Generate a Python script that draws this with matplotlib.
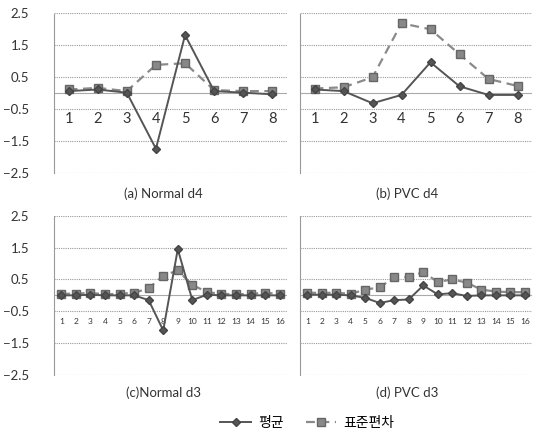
import matplotlib
matplotlib.use("Agg")
import matplotlib.pyplot as plt
import numpy as np

plt.rcParams['font.family'] = ['Lato', 'Noto Sans CJK KR', 'DejaVu Sans']

cats8 = [str(i) for i in range(1, 9)]
cats16 = [str(i) for i in range(1, 17)]

mean_a = [0.05, 0.1, 0.0, -1.75, 1.8, 0.05, 0.0, -0.05]
std_a = [0.1, 0.15, 0.05, 0.87, 0.92, 0.08, 0.05, 0.05]

mean_b = [0.1, 0.05, -0.33, -0.07, 0.95, 0.2, -0.07, -0.07]
std_b = [0.13, 0.17, 0.48, 2.17, 1.98, 1.2, 0.43, 0.21]

mean_c = [0.0, 0.0, 0.02, 0.0, 0.0, 0.0, -0.15, -1.1, 1.45, -0.15, 0.02, 0.0, 0.0, 0.0, 0.0, 0.0]
std_c = [0.05, 0.05, 0.08, 0.03, 0.05, 0.08, 0.22, 0.62, 0.78, 0.33, 0.1, 0.05, 0.03, 0.05, 0.08, 0.05]

mean_d = [0.02, 0.02, 0.02, 0.0, -0.08, -0.24, -0.15, -0.13, 0.31, 0.03, 0.07, -0.02, 0.0, 0.0, 0.0, 0.0]
std_d = [0.08, 0.08, 0.08, 0.05, 0.18, 0.25, 0.57, 0.57, 0.73, 0.42, 0.5, 0.4, 0.18, 0.12, 0.1, 0.1]

titles = ['(a) Normal d4', '(b) PVC d4', '(c)Normal d3', '(d) PVC d3']
legend_labels = ['평균', '표준편차']
yticks = [2.5, 1.5, 0.5, -0.5, -1.5, -2.5]

fig = plt.figure(figsize=(5.39, 4.38), dpi=100)
W, H = 539, 438
def rect(x0, y0, x1, y1):
    return [x0 / W, 1 - y1 / H, (x1 - x0) / W, (y1 - y0) / H]

axes = [
    fig.add_axes(rect(54, 12.7, 287, 172.7)),
    fig.add_axes(rect(300, 12.7, 532, 172.7)),
    fig.add_axes(rect(54, 215.7, 287, 375)),
    fig.add_axes(rect(300, 215.7, 532, 375)),
]
data = [(cats8, mean_a, std_a), (cats8, mean_b, std_b), (cats16, mean_c, std_c), (cats16, mean_d, std_d)]

mean_color = '#555555'
std_color = '#8a8a8a'

for i, (ax, (cats, m, s)) in enumerate(zip(axes, data)):
    n = len(cats)
    x = np.arange(n)
    small = n > 8
    ms = 5 if not small else 4.5
    ax.plot(x, s, color=std_color, lw=1.6, ls=(0, (4, 2.5)), marker='s', ms=ms + 1,
            mfc='#888888', mec='#666666', zorder=3, label=legend_labels[1])
    ax.plot(x, m, color=mean_color, lw=1.4, marker='D', ms=ms - 0.5 if not small else 4,
            mfc='#555555', mec='#444444', zorder=4, label=legend_labels[0])
    ax.set_xlim(-0.5, n - 0.5)
    ax.set_ylim(-2.5, 2.5)
    ax.set_yticks(yticks)
    ax.yaxis.grid(True, color='#999999', lw=0.8, ls=(0, (1, 1)))
    ax.set_axisbelow(True)
    for sp in ['top', 'right', 'bottom']:
        ax.spines[sp].set_visible(False)
    ax.spines['left'].set_color('#999999')
    ax.spines['left'].set_linestyle((0, (1, 1)))
    ax.spines['left'].set_linewidth(0.8)
    ax.axhline(0, color='#aaaaaa', lw=0.8, zorder=1)
    ax.set_xticks([])
    for xi, c in zip(x, cats):
        ax.text(xi, -0.81, c, ha='center', va='center', fontsize=6 if small else 10.5,
                color='#333333')
    ax.tick_params(axis='y', length=0, labelsize=9.5, labelcolor='#333333', pad=18)
    if i % 2 == 1:
        ax.tick_params(axis='y', labelleft=False)
    ax.set_xlabel(titles[i], fontsize=9.5, color='#333333')
    ax.xaxis.set_label_coords(0.47 if i % 2 == 0 else 0.46, -0.09 if i < 2 else -0.07)

h, l = axes[0].get_legend_handles_labels()
fig.legend([h[1], h[0]], [l[1], l[0]], loc='center', bbox_to_anchor=(0.57, 1 - 423 / H),
           ncol=2, frameon=False, handlelength=2.2, columnspacing=1.6, handletextpad=0.5,
           prop={'family': ['Noto Sans CJK KR', 'DejaVu Sans'], 'size': 10})

fig.savefig('out.png', dpi=100)
